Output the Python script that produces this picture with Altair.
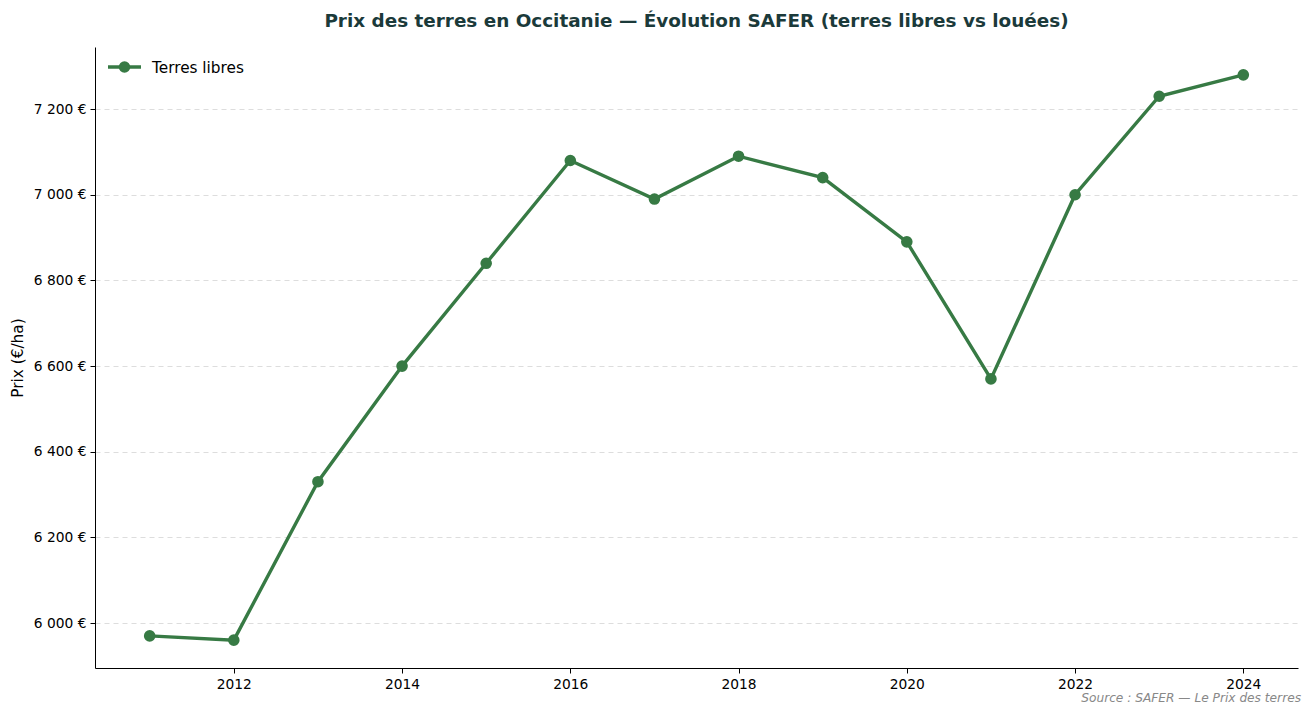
import altair as alt
import pandas as pd

years = [2011, 2012, 2013, 2014, 2015, 2016, 2017, 2018, 2019, 2020, 2021, 2022, 2023, 2024]
prix_libres = [5970, 5960, 6330, 6600, 6840, 7080, 6990, 7090, 7040, 6890, 6570, 7000, 7230, 7280]
x_ticks = [2012, 2014, 2016, 2018, 2020, 2022, 2024]
y_ticks = [6000, 6200, 6400, 6600, 6800, 7000, 7200]
series_name = "Terres libres"

GREEN = "#377a44"
FONT = "DejaVu Sans"

df = pd.DataFrame({"annee": years, "prix": prix_libres, "serie": series_name})

x_enc = alt.X("annee:Q",
              scale=alt.Scale(domain=[2010.35, 2024.65], nice=False, zero=False),
              axis=alt.Axis(values=x_ticks, format="d", title=None, grid=False,
                            labelFont=FONT, labelFontSize=13.8, labelColor="#000",
                            domainColor="#000", tickColor="#000", tickSize=5,
                            labelPadding=4))
y_enc = alt.Y("prix:Q",
              scale=alt.Scale(domain=[5895, 7345], nice=False, zero=False),
              axis=alt.Axis(values=y_ticks, title="Prix (€/ha)",
                            labelExpr="replace(format(datum.value, ',d'), ',', ' ') + ' €'",
                            labelFont=FONT, labelFontSize=13.8, labelColor="#000",
                            titleFont=FONT, titleFontSize=15.3, titleFontWeight="normal",
                            titleColor="#000", titlePadding=8,
                            domainColor="#000", tickColor="#000", tickSize=5,
                            grid=True, gridColor="#dddddd", gridDash=[5, 4],
                            gridWidth=1, labelPadding=4))

base = alt.Chart(df)
line = base.mark_line(color=GREEN, strokeWidth=3.4).encode(x=x_enc, y=y_enc)
pts = base.mark_point(color=GREEN, filled=True, opacity=1, size=135).encode(x="annee:Q", y="prix:Q")

leg_line = alt.Chart(pd.DataFrame({"serie": [series_name]})).mark_rule(
    color=GREEN, strokeWidth=3.4).encode(x=alt.value(13), x2=alt.value(46), y=alt.value(20))
leg_pt = alt.Chart(pd.DataFrame({"serie": [series_name]})).mark_point(
    color=GREEN, filled=True, opacity=1, size=135).encode(x=alt.value(29.5), y=alt.value(20))
leg_txt = alt.Chart(pd.DataFrame({"serie": [series_name]})).mark_text(
    align="left", baseline="middle", font=FONT, fontSize=15.3, color="#000").encode(
    x=alt.value(57), y=alt.value(21), text="serie:N")

source = alt.Chart(pd.DataFrame({"t": ["Source : SAFER — Le Prix des terres"]})).mark_text(
    align="right", baseline="middle", font=FONT, fontSize=12.2, fontStyle="italic",
    color="#888888").encode(x=alt.value(1206), y=alt.value(651), text="t:N")

chart = alt.layer(line, pts, leg_line, leg_pt, leg_txt, source).properties(
    width=1203, height=621,
    background="white",
    title=alt.TitleParams(
        "Prix des terres en Occitanie — Évolution SAFER (terres libres vs louées)",
        font=FONT, fontSize=18.4, fontWeight="bold", color="#1b3a3a",
        anchor="middle", offset=17),
    autosize=alt.AutoSizeParams(type="none"),
    padding={"left": 95, "top": 47, "right": 14, "bottom": 48},
).configure_view(stroke=None, strokeWidth=0)

chart.save("out.html", embed_options={"renderer": "svg", "actions": False})
